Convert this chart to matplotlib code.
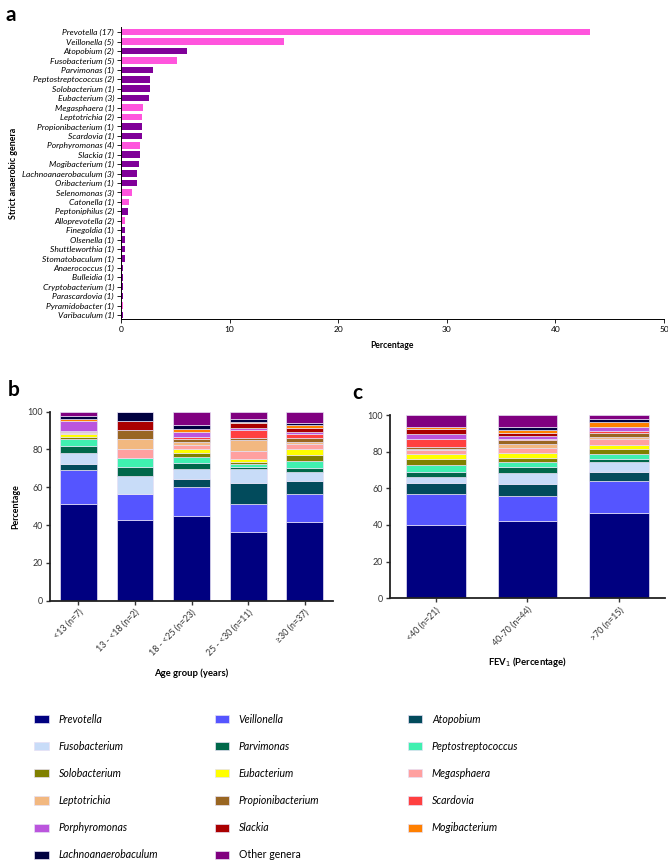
import numpy as np
import matplotlib.pyplot as plt
from matplotlib.patches import Patch

plt.rcParams['font.family'] = ['Lato', 'DejaVu Sans']

# %% panel a data
genera_a = ['Prevotella (17)', 'Veillonella (5)', 'Atopobium (2)', 'Fusobacterium (5)',
            'Parvimonas (1)', 'Peptostreptococcus (2)', 'Solobacterium (1)', 'Eubacterium (3)',
            'Megasphaera (1)', 'Leptotrichia (2)', 'Propionibacterium (1)', 'Scardovia (1)',
            'Porphyromonas (4)', 'Slackia (1)', 'Mogibacterium (1)', 'Lachnoanaerobaculum (3)',
            'Oribacterium (1)', 'Selenomonas (3)', 'Catonella (1)', 'Peptoniphilus (2)',
            'Alloprevotella (2)', 'Finegoldia (1)', 'Olsenella (1)', 'Shuttleworthia (1)',
            'Stomatobaculum (1)', 'Anaerococcus (1)', 'Bulleidia (1)', 'Cryptobacterium (1)',
            'Parascardovia (1)', 'Pyramidobacter (1)', 'Varibaculum (1)']
pct_a = [43.2, 15.0, 6.1, 5.2, 2.95, 2.7, 2.7, 2.6, 2.05, 1.96, 1.96, 1.96, 1.75, 1.75, 1.66,
         1.44, 1.44, 0.98, 0.74, 0.64, 0.37, 0.37, 0.37, 0.37, 0.37, 0.18, 0.18, 0.18, 0.18,
         0.18, 0.18]
group_a = ['p', 'p', 'd', 'p', 'd', 'd', 'd', 'd', 'p', 'p', 'd', 'd', 'p', 'd', 'd', 'd',
           'd', 'p', 'p', 'd', 'p', 'd', 'd', 'd', 'd', 'd', 'd', 'd', 'd', 'p', 'd']

# %% panel b / c data (stack order bottom -> top)
genera = ['Prevotella', 'Veillonella', 'Atopobium', 'Fusobacterium', 'Parvimonas',
          'Peptostreptococcus', 'Solobacterium', 'Eubacterium', 'Megasphaera', 'Leptotrichia',
          'Propionibacterium', 'Scardovia', 'Porphyromonas', 'Slackia', 'Mogibacterium',
          'Lachnoanaerobaculum', 'Other genera']
colors = ['#000080', '#5555FF', '#024B5C', '#C8DCF8', '#00684A', '#40F0B0', '#808000',
          '#FFFF00', '#FFA0A0', '#F2B880', '#996622', '#FF4040', '#BB55DD', '#AA0000',
          '#FF8000', '#000040', '#800080']

age_labels = ['<13 (n=7)', '13 - <18 (n=2)', '18 - <25 (n=23)', '25 - <30 (n=11)', '\u226530 (n=37)']
age_lt13 = [51.0, 18.0, 3.3, 5.8, 3.7, 3.5, 1.2, 1.6, 0.6, 0.6, 0.4, 0.0, 5.3, 0.0, 1.2, 1.4, 2.4]
age_13_18 = [42.5, 14.1, 0.0, 9.5, 4.8, 4.8, 0.0, 0.0, 4.8, 4.8, 4.8, 0.0, 0.0, 4.8, 0.0, 5.1, 0.0]
age_18_25 = [45.0, 15.3, 4.1, 5.1, 3.2, 3.1, 2.2, 2.4, 2.2, 1.6, 1.6, 0.8, 2.5, 0.0, 1.8, 1.8, 7.3]
age_25_30 = [36.5, 14.5, 11.3, 7.4, 0.8, 1.6, 1.1, 1.6, 4.6, 5.5, 1.2, 4.1, 1.2, 2.6, 0.4, 1.6, 4.0]
age_ge30 = [41.8, 14.5, 7.0, 5.0, 2.1, 3.5, 3.2, 3.0, 2.6, 1.3, 1.9, 2.3, 0.9, 2.1, 1.7, 0.9, 6.2]

fev_labels = ['<40 (n=21)', '40-70 (n=44)', '>70 (n=15)']
fev_lt40 = [39.8, 16.9, 6.0, 3.7, 2.7, 3.6, 3.3, 2.7, 2.4, 0.6, 0.6, 4.4, 2.9, 2.6, 1.1, 0.0, 6.7]
fev_40_70 = [42.4, 13.6, 6.5, 6.0, 3.3, 2.6, 2.3, 2.6, 2.7, 2.2, 2.0, 0.6, 2.0, 1.6, 1.4, 1.6, 6.6]
fev_gt70 = [46.7, 17.5, 4.5, 5.8, 1.3, 2.7, 3.1, 2.1, 3.1, 1.1, 2.5, 1.0, 2.0, 0.0, 3.0, 1.5, 2.1]

fig = plt.figure(figsize=(6.68, 8.60), dpi=100)

# %% panel a
ax = fig.add_axes([0.1811, 0.6291, 0.8129, 0.339])
y = np.arange(len(genera_a))
bar_cols = ['#FF55DD' if g == 'p' else '#800099' for g in group_a]
ax.barh(y, pct_a, height=0.7, color=bar_cols)
ax.set_ylim(30.42, -0.5)
ax.set_xlim(0, 50)
ax.set_yticks(y)
ax.set_yticklabels(genera_a, style='italic', fontsize=6.1)
ax.set_xticks([0, 10, 20, 30, 40, 50])
ax.tick_params(axis='x', labelsize=6, length=3, width=0.6, pad=2)
ax.tick_params(axis='y', length=3, width=0.6, pad=2)
for s in ['top', 'right']:
    ax.spines[s].set_visible(False)
for s in ['left', 'bottom']:
    ax.spines[s].set_linewidth(0.7)
ax.set_xlabel('Percentage', fontsize=6.2, fontweight='bold', labelpad=6)
ax.set_ylabel('Strict anaerobic genera', fontsize=6.4, fontweight='bold', labelpad=3)
fig.text(0.008, 0.982, 'a', fontsize=15, fontweight='bold', va='center')


def stacked(ax, rows, labels):
    vals = np.array(rows)
    x = np.arange(len(rows))
    bottom = np.zeros(len(rows))
    for i in range(vals.shape[1]):
        ax.bar(x, vals[:, i], bottom=bottom, width=0.65, color=colors[i],
               edgecolor='#E6E0F4', linewidth=0.5)
        bottom += vals[:, i]
    ax.set_xlim(-0.5, len(rows) - 0.5)
    ax.set_ylim(0, 100)
    ax.set_yticks([0, 20, 40, 60, 80, 100])
    ax.set_xticks(x)
    ax.set_xticklabels(labels, rotation=45, ha='right', rotation_mode='anchor')
    ax.tick_params(labelsize=6.4, length=3, width=1, colors='#333333', pad=2)
    for s in ['top', 'right']:
        ax.spines[s].set_visible(False)
    for s in ['left', 'bottom']:
        ax.spines[s].set_linewidth(1.3)
        ax.spines[s].set_color('#222222')


# %% panel b
axb = fig.add_axes([0.0749, 0.3015, 0.4237, 0.2198])
stacked(axb, [age_lt13, age_13_18, age_18_25, age_25_30, age_ge30], age_labels)
axb.set_ylabel('Percentage', fontsize=6.4, fontweight='bold', labelpad=5)
axb.set_xlabel('Age group (years)', fontsize=6.8, fontweight='bold', labelpad=8)
fig.text(0.012, 0.546, 'b', fontsize=15, fontweight='bold', va='center')

# %% panel c
axc = fig.add_axes([0.5838, 0.3043, 0.4117, 0.2131])
stacked(axc, [fev_lt40, fev_40_70, fev_gt70], fev_labels)
axc.set_xlabel('FEV$_1$ (Percentage)', fontsize=6.8, fontweight='bold', labelpad=5)
fig.text(0.527, 0.543, 'c', fontsize=15, fontweight='bold', va='center')

# %% legend, three columns filled row by row
handles = [Patch(facecolor=c, edgecolor='#E6E0F4', linewidth=0.5) for c in colors]
col_x = [0.045, 0.315, 0.604]
for k in range(3):
    idx = list(range(k, len(genera), 3))
    leg = fig.legend([handles[i] for i in idx], [genera[i] for i in idx],
                     loc='upper left', bbox_to_anchor=(col_x[k], 0.175),
                     frameon=False, fontsize=7.6, handlelength=1.4, handleheight=0.8,
                     labelspacing=1.53, handletextpad=0.9, borderaxespad=0)
    for t in leg.get_texts():
        if t.get_text() != 'Other genera':
            t.set_style('italic')

fig.savefig('out.png', dpi=100)
